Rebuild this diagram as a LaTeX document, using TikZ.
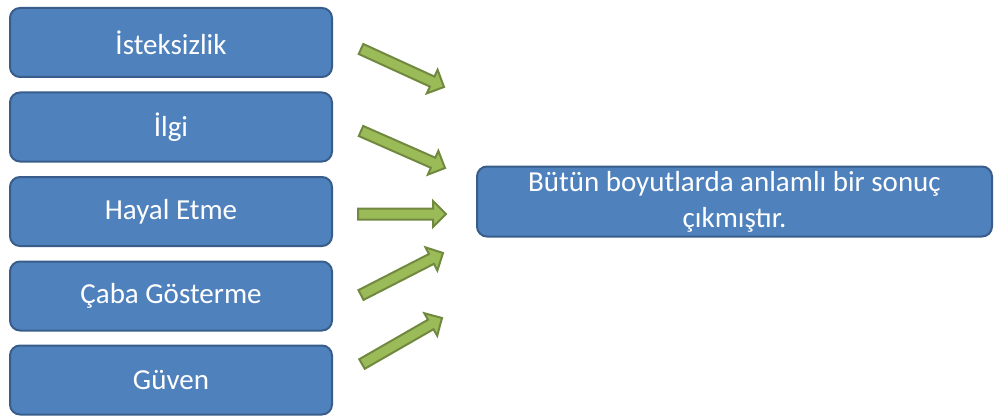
\documentclass[tikz,border=0pt]{standalone}
\usepackage{fontspec}
\setmainfont{Carlito}
\usetikzlibrary{calc}
\definecolor{boxfill}{HTML}{4F81BD}
\definecolor{boxline}{HTML}{385D8A}
\definecolor{arrowfill}{HTML}{9BBB59}
\definecolor{arrowline}{HTML}{71893F}
\tikzset{
  factor/.style={draw=boxline, fill=boxfill, line width=2pt, rounded corners=10pt,
    minimum width=322pt, minimum height=69pt, inner sep=0pt,
    text=white, font=\fontsize{29}{36}\selectfont},
  result/.style={factor, minimum width=515pt, minimum height=70pt, align=center},
  greenarrow/.style={draw=arrowline, fill=arrowfill, line width=2pt, line join=miter}
}
% block arrow from a tail coordinate to a tip coordinate
\newcommand\blockarrow[2]{%
  \coordinate (hb) at ($(#2)!13pt!(#1)$);
  \filldraw[greenarrow]
    ($(#1)!5.5pt!90:(#2)$) -- ($(hb)!5.5pt!-90:(#1)$) -- ($(hb)!13pt!-90:(#1)$)
    -- (#2) -- ($(hb)!13pt!90:(#1)$) -- ($(hb)!5.5pt!90:(#1)$)
    -- ($(#1)!5.5pt!-90:(#2)$) -- cycle;
}
\begin{document}
\begin{tikzpicture}[x=1pt, y=-1pt]
  \useasboundingbox (0,0) rectangle (995,417);

  \node[factor] (f1) at (171,42.5) {İsteksizlik};
  \node[factor] (f2) at (171,127) {İlgi};
  \node[factor] (f3) at (171,211.5) {Hayal Etme};
  \node[factor] (f4) at (171,296) {Çaba Gösterme};
  \node[factor] (f5) at (171,380) {Güven};

  \node[result] (res) at (734.5,201.5) {Bütün boyutlarda anlamlı bir sonuç\\çıkmıştır.};

  \coordinate (t1) at (361,49);  \coordinate (h1) at (444,87);
  \coordinate (t2) at (361,131); \coordinate (h2) at (445,168);
  \coordinate (t3) at (358,214); \coordinate (h3) at (446,214);
  \coordinate (t4) at (361,295); \coordinate (h4) at (443,253);
  \coordinate (t5) at (362,364); \coordinate (h5) at (442,318);

  \blockarrow{t1}{h1}
  \blockarrow{t2}{h2}
  \blockarrow{t3}{h3}
  \blockarrow{t4}{h4}
  \blockarrow{t5}{h5}
\end{tikzpicture}
\end{document}
